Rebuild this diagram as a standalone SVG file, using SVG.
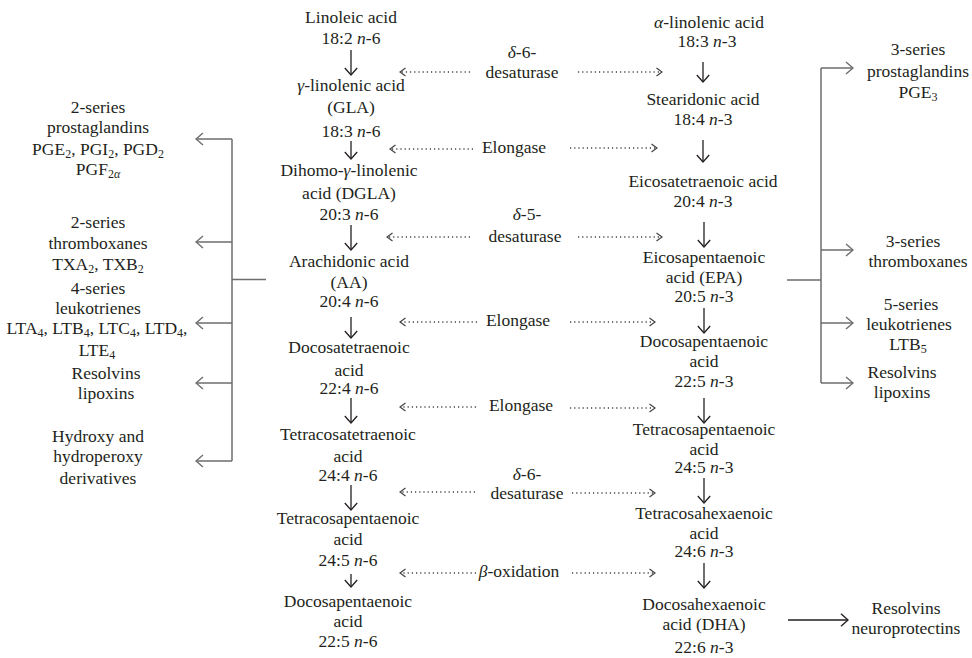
<svg xmlns="http://www.w3.org/2000/svg" width="972" height="658" viewBox="0 0 972 658">
<style>
.t{font-family:"Liberation Serif","Times New Roman",serif;font-size:17.5px;fill:#231f20;text-anchor:middle}
.i{font-style:italic}
.s{font-size:12px}
.dn{stroke:#231f20;stroke-width:1.3;fill:none;marker-end:url(#ah)}
.dot{stroke:#444;stroke-width:1.3;stroke-dasharray:1.2 3;fill:none;marker-end:url(#dh)}
.br{stroke:#6d6d6d;stroke-width:1.5;fill:none}
.ba{stroke:#6d6d6d;stroke-width:1.5;fill:none;marker-end:url(#gh)}
</style>
<defs>
<marker id="ah" viewBox="0 0 10 14" refX="9" refY="7" markerWidth="10" markerHeight="14" markerUnits="userSpaceOnUse" orient="auto"><path d="M2,0.8 L9,7 L2,13.2" fill="none" stroke="#231f20" stroke-width="1.3"/></marker>
<marker id="dh" viewBox="0 0 10 10" refX="9" refY="5" markerWidth="10" markerHeight="10" markerUnits="userSpaceOnUse" orient="auto"><path d="M3.5,1 L9,5 L3.5,9" fill="none" stroke="#444" stroke-width="1.2" stroke-dasharray="none"/></marker>
<marker id="gh" viewBox="0 0 10 14" refX="9" refY="7" markerWidth="10" markerHeight="14" markerUnits="userSpaceOnUse" orient="auto"><path d="M2,1 L9,7 L2,13" fill="none" stroke="#6d6d6d" stroke-width="1.4"/></marker>
</defs>

<!-- n-6 column -->
<g id="n6-linoleic" class="t"><text x="351" y="23">Linoleic acid</text><text x="351" y="44">18:2 <tspan class="i">n</tspan>-6</text></g>
<g id="n6-gla" class="t"><text x="351" y="91"><tspan class="i">γ</tspan>-linolenic acid</text><text x="351" y="113">(GLA)</text><text x="351" y="137">18:3 <tspan class="i">n</tspan>-6</text></g>
<g id="n6-dgla" class="t"><text x="349" y="176">Dihomo-<tspan class="i">γ</tspan>-linolenic</text><text x="349" y="199">acid (DGLA)</text><text x="349" y="220">20:3 <tspan class="i">n</tspan>-6</text></g>
<g id="n6-aa" class="t"><text x="349" y="267">Arachidonic acid</text><text x="349" y="288">(AA)</text><text x="349" y="307">20:4 <tspan class="i">n</tspan>-6</text></g>
<g id="n6-dta" class="t"><text x="349" y="353">Docosatetraenoic</text><text x="349" y="376">acid</text><text x="349" y="394">22:4 <tspan class="i">n</tspan>-6</text></g>
<g id="n6-tta" class="t"><text x="348" y="440">Tetracosatetraenoic</text><text x="348" y="462">acid</text><text x="348" y="481">24:4 <tspan class="i">n</tspan>-6</text></g>
<g id="n6-tpa" class="t"><text x="348" y="524">Tetracosapentaenoic</text><text x="348" y="545">acid</text><text x="348" y="566">24:5 <tspan class="i">n</tspan>-6</text></g>
<g id="n6-dpa" class="t"><text x="348" y="607">Docosapentaenoic</text><text x="348" y="627">acid</text><text x="348" y="647">22:5 <tspan class="i">n</tspan>-6</text></g>

<!-- n-3 column -->
<g id="n3-ala" class="t"><text x="709" y="28"><tspan class="i">α</tspan>-linolenic acid</text><text x="707" y="47">18:3 <tspan class="i">n</tspan>-3</text></g>
<g id="n3-sda" class="t"><text x="703" y="105">Stearidonic acid</text><text x="703" y="125">18:4 <tspan class="i">n</tspan>-3</text></g>
<g id="n3-eta" class="t"><text x="703" y="187">Eicosatetraenoic acid</text><text x="703" y="207">20:4 <tspan class="i">n</tspan>-3</text></g>
<g id="n3-epa" class="t"><text x="704" y="263">Eicosapentaenoic</text><text x="704" y="283">acid (EPA)</text><text x="704" y="302">20:5 <tspan class="i">n</tspan>-3</text></g>
<g id="n3-dpa" class="t"><text x="704" y="347">Docosapentaenoic</text><text x="704" y="367">acid</text><text x="704" y="387">22:5 <tspan class="i">n</tspan>-3</text></g>
<g id="n3-tpa" class="t"><text x="704" y="435">Tetracosapentaenoic</text><text x="704" y="455">acid</text><text x="704" y="473">24:5 <tspan class="i">n</tspan>-3</text></g>
<g id="n3-tha" class="t"><text x="704" y="519">Tetracosahexaenoic</text><text x="704" y="539">acid</text><text x="704" y="557">24:6 <tspan class="i">n</tspan>-3</text></g>
<g id="n3-dha" class="t"><text x="704" y="610">Docosahexaenoic</text><text x="704" y="630">acid (DHA)</text><text x="704" y="653">22:6 <tspan class="i">n</tspan>-3</text></g>

<!-- enzymes -->
<g id="enz-d6a" class="t"><text x="522" y="58"><tspan class="i">δ</tspan>-6-</text><text x="522" y="78">desaturase</text></g>
<g id="enz-elo1" class="t"><text x="514" y="153">Elongase</text></g>
<g id="enz-d5" class="t"><text x="527" y="220"><tspan class="i">δ</tspan>-5-</text><text x="525" y="242">desaturase</text></g>
<g id="enz-elo2" class="t"><text x="518" y="326">Elongase</text></g>
<g id="enz-elo3" class="t"><text x="521" y="411">Elongase</text></g>
<g id="enz-d6b" class="t"><text x="527" y="480"><tspan class="i">δ</tspan>-6-</text><text x="527" y="499">desaturase</text></g>
<g id="enz-box" class="t"><text x="519" y="577"><tspan class="i">β</tspan>-oxidation</text></g>

<!-- left products -->
<g id="l-pg" class="t"><text x="98" y="113">2-series</text><text x="98" y="133">prostaglandins</text><text x="98" y="155">PGE<tspan class="s" dy="3">2</tspan><tspan dy="-3">, PGI</tspan><tspan class="s" dy="3">2</tspan><tspan dy="-3">, PGD</tspan><tspan class="s" dy="3">2</tspan></text><text x="98" y="175">PGF<tspan class="s" dy="3">2<tspan class="i">α</tspan></tspan></text></g>
<g id="l-tx" class="t"><text x="98" y="228">2-series</text><text x="98" y="249">thromboxanes</text><text x="98" y="270">TXA<tspan class="s" dy="3">2</tspan><tspan dy="-3">, TXB</tspan><tspan class="s" dy="3">2</tspan></text></g>
<g id="l-lt" class="t"><text x="98" y="294">4-series</text><text x="98" y="314">leukotrienes</text><text x="97" y="334">LTA<tspan class="s" dy="3">4</tspan><tspan dy="-3">, LTB</tspan><tspan class="s" dy="3">4</tspan><tspan dy="-3">, LTC</tspan><tspan class="s" dy="3">4</tspan><tspan dy="-3">, LTD</tspan><tspan class="s" dy="3">4</tspan><tspan dy="-3">,</tspan></text><text x="97" y="356">LTE<tspan class="s" dy="3">4</tspan></text></g>
<g id="l-rv" class="t"><text x="106" y="379">Resolvins</text><text x="106" y="399">lipoxins</text></g>
<g id="l-hx" class="t"><text x="98" y="442">Hydroxy and</text><text x="98" y="462">hydroperoxy</text><text x="98" y="484">derivatives</text></g>

<!-- right products -->
<g id="r-pg" class="t"><text x="918" y="55">3-series</text><text x="918" y="77">prostaglandins</text><text x="918" y="98">PGE<tspan class="s" dy="3">3</tspan></text></g>
<g id="r-tx" class="t"><text x="913" y="247">3-series</text><text x="918" y="267">thromboxanes</text></g>
<g id="r-lt" class="t"><text x="911" y="310">5-series</text><text x="909" y="330">leukotrienes</text><text x="908" y="350">LTB<tspan class="s" dy="3">5</tspan></text></g>
<g id="r-rv" class="t"><text x="902" y="378">Resolvins</text><text x="902" y="398">lipoxins</text></g>
<g id="r-np" class="t"><text x="906" y="614">Resolvins</text><text x="906" y="634">neuroprotectins</text></g>

<g id="connectors">
<!-- n-6 vertical arrows -->
<line class="dn" x1="351" y1="50" x2="351" y2="75"/>
<line class="dn" x1="351" y1="141" x2="351" y2="159"/>
<line class="dn" x1="351" y1="225" x2="351" y2="250"/>
<line class="dn" x1="351" y1="317" x2="351" y2="338"/>
<line class="dn" x1="351" y1="398" x2="351" y2="423"/>
<line class="dn" x1="351" y1="485" x2="351" y2="510"/>
<line class="dn" x1="351" y1="574" x2="351" y2="587"/>
<!-- n-3 vertical arrows -->
<line class="dn" x1="703" y1="62" x2="703" y2="82"/>
<line class="dn" x1="703" y1="140" x2="703" y2="162"/>
<line class="dn" x1="704" y1="222" x2="704" y2="247"/>
<line class="dn" x1="704" y1="308" x2="704" y2="333"/>
<line class="dn" x1="704" y1="398" x2="704" y2="423"/>
<line class="dn" x1="704" y1="478" x2="704" y2="503"/>
<line class="dn" x1="704" y1="563" x2="704" y2="588"/>
<!-- dotted enzyme arrows -->
<line class="dot" x1="470" y1="72" x2="400" y2="72"/>
<line class="dot" x1="578" y1="72" x2="662" y2="72"/>
<line class="dot" x1="473" y1="149" x2="390" y2="149"/>
<line class="dot" x1="570" y1="148" x2="657" y2="148"/>
<line class="dot" x1="470" y1="237" x2="387" y2="237"/>
<line class="dot" x1="578" y1="237" x2="662" y2="237"/>
<line class="dot" x1="477" y1="322" x2="400" y2="322"/>
<line class="dot" x1="570" y1="322" x2="655" y2="322"/>
<line class="dot" x1="476" y1="407" x2="400" y2="407"/>
<line class="dot" x1="570" y1="408" x2="655" y2="408"/>
<line class="dot" x1="475" y1="492" x2="400" y2="492"/>
<line class="dot" x1="572" y1="493" x2="655" y2="493"/>
<line class="dot" x1="476" y1="573" x2="400" y2="573"/>
<line class="dot" x1="572" y1="573" x2="655" y2="573"/>
<!-- left bracket -->
<line class="br" x1="232" y1="139" x2="232" y2="461"/>
<line class="br" x1="232" y1="279.5" x2="266" y2="279.5"/>
<line class="ba" x1="232" y1="139" x2="196" y2="139"/>
<line class="ba" x1="232" y1="242" x2="196" y2="242"/>
<line class="ba" x1="232" y1="323" x2="196" y2="323"/>
<line class="ba" x1="232" y1="383" x2="196" y2="383"/>
<line class="ba" x1="232" y1="461" x2="196" y2="461"/>
<!-- right bracket -->
<line class="br" x1="821" y1="68" x2="821" y2="383"/>
<line class="br" x1="787" y1="280" x2="821" y2="280"/>
<line class="ba" x1="821" y1="68" x2="853" y2="68"/>
<line class="ba" x1="821" y1="250" x2="853" y2="250"/>
<line class="ba" x1="821" y1="323" x2="853" y2="323"/>
<line class="ba" x1="821" y1="383" x2="853" y2="383"/>
<!-- DHA arrow -->
<line class="dn" x1="788" y1="620" x2="848" y2="620"/>
</g>
</svg>
